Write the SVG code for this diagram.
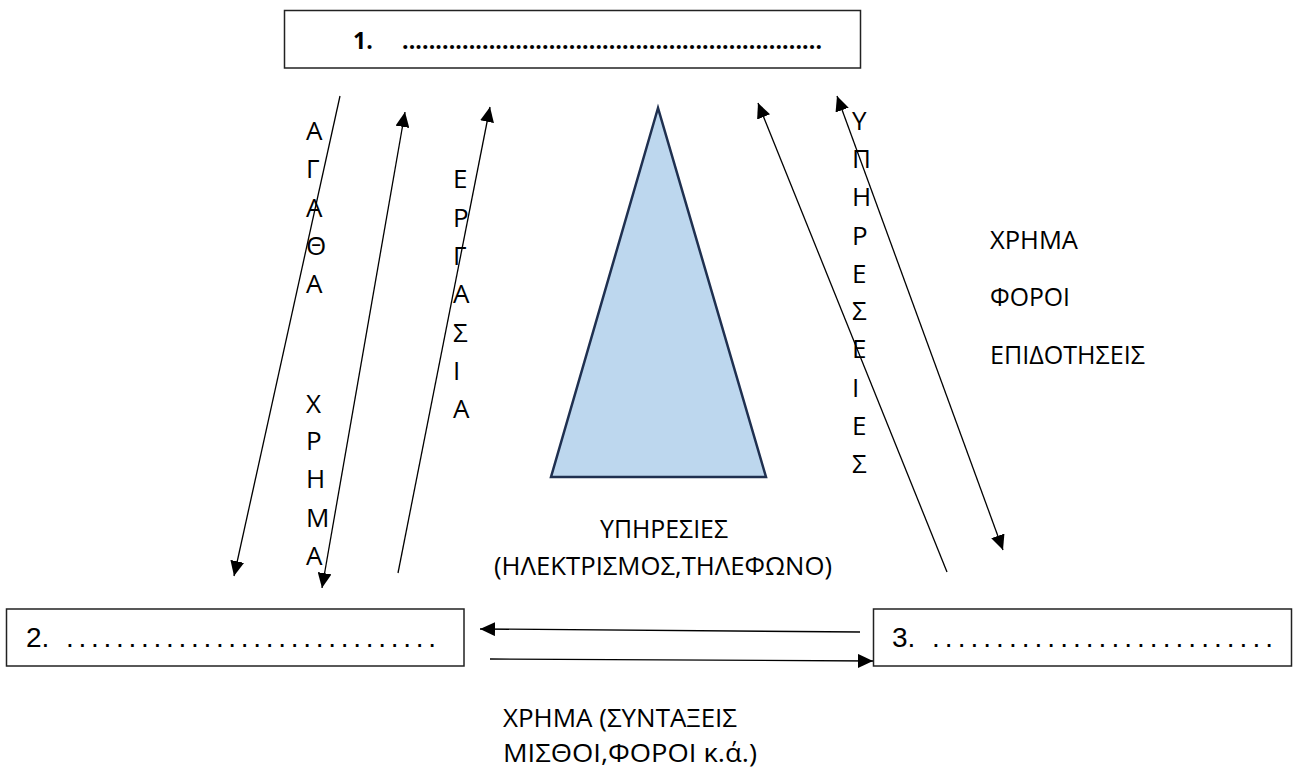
<svg xmlns="http://www.w3.org/2000/svg" width="1302" height="771" viewBox="0 0 1302 771">
<style>
.box{fill:#fff;stroke:#222;stroke-width:1.5}
.g{font-family:"Open Sans","Noto Sans","DejaVu Sans",sans-serif;font-size:26px;fill:#000}
.a{font-family:"Liberation Sans",Arial,sans-serif;font-size:28px;fill:#000}
.b{font-family:"Open Sans","Noto Sans",sans-serif;font-size:23px;font-weight:bold;fill:#000}
.ln{stroke:#000;stroke-width:1.3;fill:none}
.e{marker-end:url(#ah)}
.s{marker-start:url(#ah)}
</style>
<defs>
<marker id="ah" markerUnits="userSpaceOnUse" markerWidth="16" markerHeight="14" refX="15" refY="7" orient="auto-start-reverse">
<path d="M0,0 L15,7 L0,14 z" fill="#000"/>
</marker>
</defs>
<rect width="1302" height="771" fill="#fff"/>
<g id="node1">
<rect class="box" x="284.5" y="10.5" width="576" height="57.5"/>
<text class="b" x="353" y="49">1.</text>
<text class="b" x="402" y="49" textLength="420" lengthAdjust="spacing">...............................................................</text>
</g>
<g id="node2">
<rect class="box" x="6.5" y="609" width="457.5" height="57"/>
<text class="a" x="26" y="647">2.</text>
<text class="a" x="66" y="647" textLength="370" lengthAdjust="spacing">..............................</text>
</g>
<g id="node3">
<rect class="box" x="873.5" y="609" width="418" height="57"/>
<text class="a" x="892" y="647">3.</text>
<text class="a" x="932" y="647" textLength="341" lengthAdjust="spacing">...........................</text>
</g>
<g id="triangle">
<polygon points="658,108 551,477 766,477" fill="#BDD7EE" stroke="#1F3050" stroke-width="2.5" stroke-linejoin="miter"/>
</g>
<g id="connectors">
<line class="ln e" x1="340" y1="96" x2="234" y2="576"/>
<line class="ln s e" x1="405" y1="112" x2="322" y2="588"/>
<line class="ln e" x1="398" y1="573" x2="490" y2="107"/>
<line class="ln e" x1="947" y1="572" x2="758" y2="103"/>
<line class="ln s e" x1="837" y1="96" x2="1003" y2="550"/>
<line class="ln e" x1="860" y1="632" x2="480" y2="629"/>
<line class="ln e" x1="490" y1="659" x2="873" y2="661"/>
</g>
<g id="labels">
<text class="g" x="306">
<tspan x="306" y="140">Α</tspan><tspan x="306" y="178">Γ</tspan><tspan x="306" y="217">Α</tspan><tspan x="306" y="255">Θ</tspan><tspan x="306" y="293">Α</tspan>
<tspan x="306" y="413">Χ</tspan><tspan x="306" y="450">Ρ</tspan><tspan x="306" y="488">Η</tspan><tspan x="306" y="527">Μ</tspan><tspan x="306" y="565">Α</tspan>
</text>
<text class="g">
<tspan x="453" y="188">Ε</tspan><tspan x="453" y="227">Ρ</tspan><tspan x="453" y="265">Γ</tspan><tspan x="453" y="303">Α</tspan><tspan x="453" y="342">Σ</tspan><tspan x="453" y="380">Ι</tspan><tspan x="453" y="418">Α</tspan>
</text>
<text class="g">
<tspan x="852" y="130">Υ</tspan><tspan x="852" y="168">Π</tspan><tspan x="852" y="206">Η</tspan><tspan x="852" y="245">Ρ</tspan><tspan x="852" y="283">Ε</tspan><tspan x="852" y="320">Σ</tspan><tspan x="852" y="358">Ε</tspan><tspan x="852" y="397">Ι</tspan><tspan x="852" y="435">Ε</tspan><tspan x="852" y="473">Σ</tspan>
</text>
<text class="g" x="990" y="249" textLength="88" lengthAdjust="spacingAndGlyphs">ΧΡΗΜΑ</text>
<text class="g" x="990" y="306" textLength="80" lengthAdjust="spacingAndGlyphs">ΦΟΡΟΙ</text>
<text class="g" x="990" y="364" textLength="155" lengthAdjust="spacingAndGlyphs">ΕΠΙΔΟΤΗΣΕΙΣ</text>
<text class="g" x="600" y="538" textLength="128" lengthAdjust="spacingAndGlyphs">ΥΠΗΡΕΣΙΕΣ</text>
<text class="g" x="494" y="575" textLength="338" lengthAdjust="spacingAndGlyphs">(ΗΛΕΚΤΡΙΣΜΟΣ,ΤΗΛΕΦΩΝΟ)</text>
<text class="g" x="503" y="727" textLength="234" lengthAdjust="spacingAndGlyphs">ΧΡΗΜΑ (ΣΥΝΤΑΞΕΙΣ</text>
<text class="g" x="503" y="762" textLength="254" lengthAdjust="spacingAndGlyphs">ΜΙΣΘΟΙ,ΦΟΡΟΙ κ.ά.)</text>
</g>
</svg>
